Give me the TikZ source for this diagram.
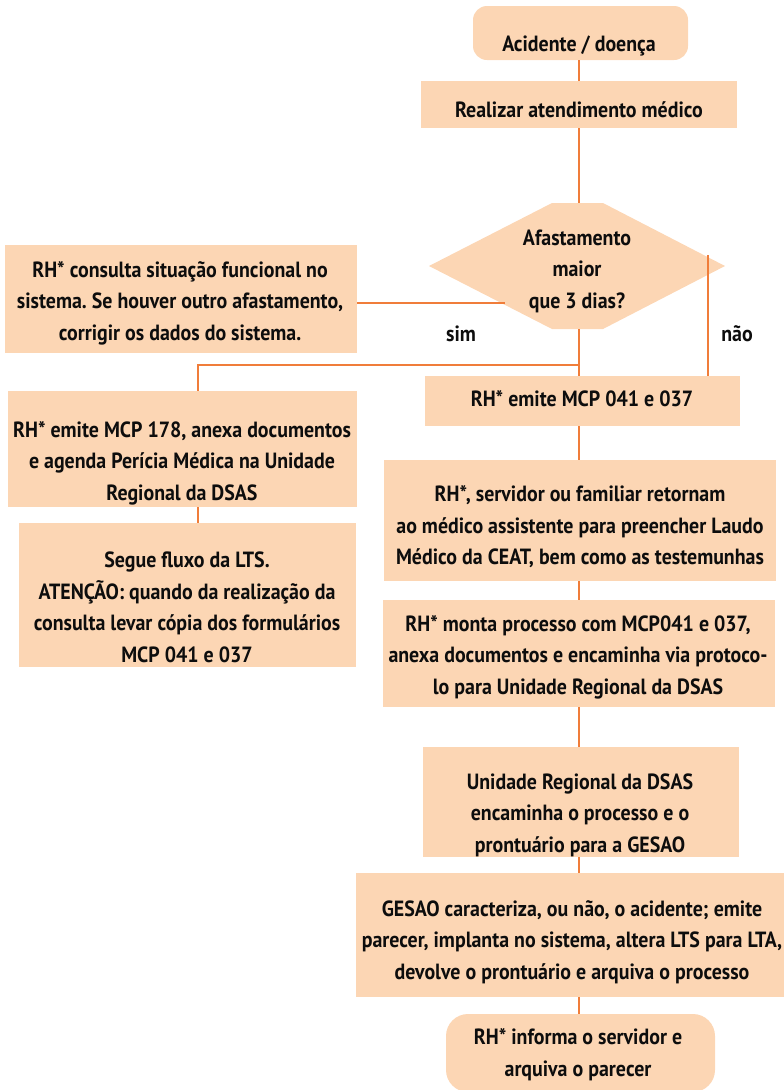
\documentclass[tikz,border=0pt]{standalone}
\usepackage{fontspec}
\setmainfont{PT Sans}[FakeStretch=0.905]
\frenchspacing
\definecolor{boxfill}{RGB}{252,214,180}
\definecolor{linecol}{RGB}{240,125,58}
\begin{document}
\begin{tikzpicture}[x=1pt,y=-1pt,
  box/.style={fill=boxfill, draw=none, inner sep=0pt, outer sep=0pt},
  txt/.style={font=\bfseries\fontsize{22}{31.5}\selectfont, align=center, inner sep=0pt, text=black!95},
  conn/.style={draw=linecol, line width=2pt}]
\useasboundingbox (0,0) rectangle (784,1090);
\coordinate (trunk) at (579,0);
\node[box, rounded corners=14pt, minimum width=215pt, minimum height=54pt] (start) at (580.5,33) {};
\node[box, minimum width=316pt, minimum height=47pt] (atend) at (579,104.5) {};
\node[box, minimum width=352pt, minimum height=108pt] (consulta) at (181,299) {};
\node[box, minimum width=315pt, minimum height=50pt] (mcp041) at (582.5,401) {};
\node[box, minimum width=349pt, minimum height=116pt] (mcp178) at (182.5,449) {};
\node[box, minimum width=337pt, minimum height=144pt] (lts) at (187.5,595) {};
\node[box, minimum width=392pt, minimum height=121pt] (retorno) at (580,520.5) {};
\node[box, minimum width=392pt, minimum height=107pt] (monta) at (579,653.5) {};
\node[box, minimum width=316pt, minimum height=110pt] (unidade) at (581,802) {};
\node[box, minimum width=428pt, minimum height=124pt] (gesao) at (570,935) {};
\node[box, rounded corners=22pt, minimum width=269pt, minimum height=78pt] (fim) at (580.5,1053) {};
% decision (truncated diamond)
\fill[boxfill] (429,266) -- (552,203) -- (603,203) -- (725,266) -- (603,329) -- (552,329) -- cycle;
\coordinate (dtop) at (579,203);
\coordinate (dbot) at (579,329);
\coordinate (dsim) at (505,303);
\coordinate (dnao) at (708,255);
\coordinate (split) at (579,365);
% connectors
\draw[conn] (start.south -| trunk) -- (atend.north -| trunk);
\draw[conn] (atend.south -| trunk) -- (dtop);
\draw[conn] (consulta.east |- dsim) -- (dsim);
\draw[conn] (dbot) -- (mcp041.north -| trunk);
\draw[conn] (split) -- (split -| 198,0) -- (mcp178.north -| 198,0);
\draw[conn] (dnao) -- (mcp041.north -| dnao);
\draw[conn] (mcp178.south -| 198,0) -- (lts.north -| 198,0);
\draw[conn] (mcp041.south -| trunk) -- (retorno.north -| trunk);
\draw[conn] (retorno.south -| trunk) -- (monta.north -| trunk);
\draw[conn] (monta.south -| trunk) -- (unidade.north -| trunk);
\draw[conn] (unidade.south -| trunk) -- (gesao.north -| trunk);
\draw[conn] (gesao.south -| trunk) -- (fim.north -| trunk);
% texts
\node[txt] (t1) at (579,46) {Acidente / doença};
\node[txt] (t2) at (579,110) {Realizar atendimento médico};
\node[txt] (t3) at (577,271) {Afastamento\\maior\\que 3 dias?};
\node[txt] (t4) at (180,303) {RH* consulta situação funcional no\\sistema. Se houver outro afastamento,\\corrigir os dados do sistema.};
\node[txt] (t5) at (461,334) {sim};
\node[txt] (t6) at (737,334) {não};
\node[txt] (t7) at (582,398.5) {RH* emite MCP 041 e 037};
\node[txt] (t8) at (182,463) {RH* emite MCP 178, anexa documentos\\e agenda Perícia Médica na Unidade\\Regional da DSAS};
\node[txt] (t9) at (187,607.5) {Segue fluxo da LTS.\\ATENÇÃO: quando da realização da\\consulta levar cópia dos formulários\\MCP 041 e 037};
\node[txt] (t10) at (580,527) {RH*, servidor ou familiar retornam\\ao médico assistente para preencher Laudo\\Médico da CEAT, bem como as testemunhas};
\node[txt] (t11) at (578,657) {RH* monta processo com MCP041 e 037,\\anexa documentos e encaminha via protoco-\\lo para Unidade Regional da DSAS};
\node[txt] (t12) at (580,815) {Unidade Regional da DSAS\\encaminha o processo e o\\prontuário para a GESAO};
\node[txt] (t13) at (572,942) {GESAO caracteriza, ou não, o acidente; emite\\parecer, implanta no sistema, altera LTS para LTA,\\devolve o prontuário e arquiva o processo};
\node[txt] (t14) at (578,1054.5) {RH* informa o servidor e\\arquiva o parecer};
\end{tikzpicture}
\end{document}
